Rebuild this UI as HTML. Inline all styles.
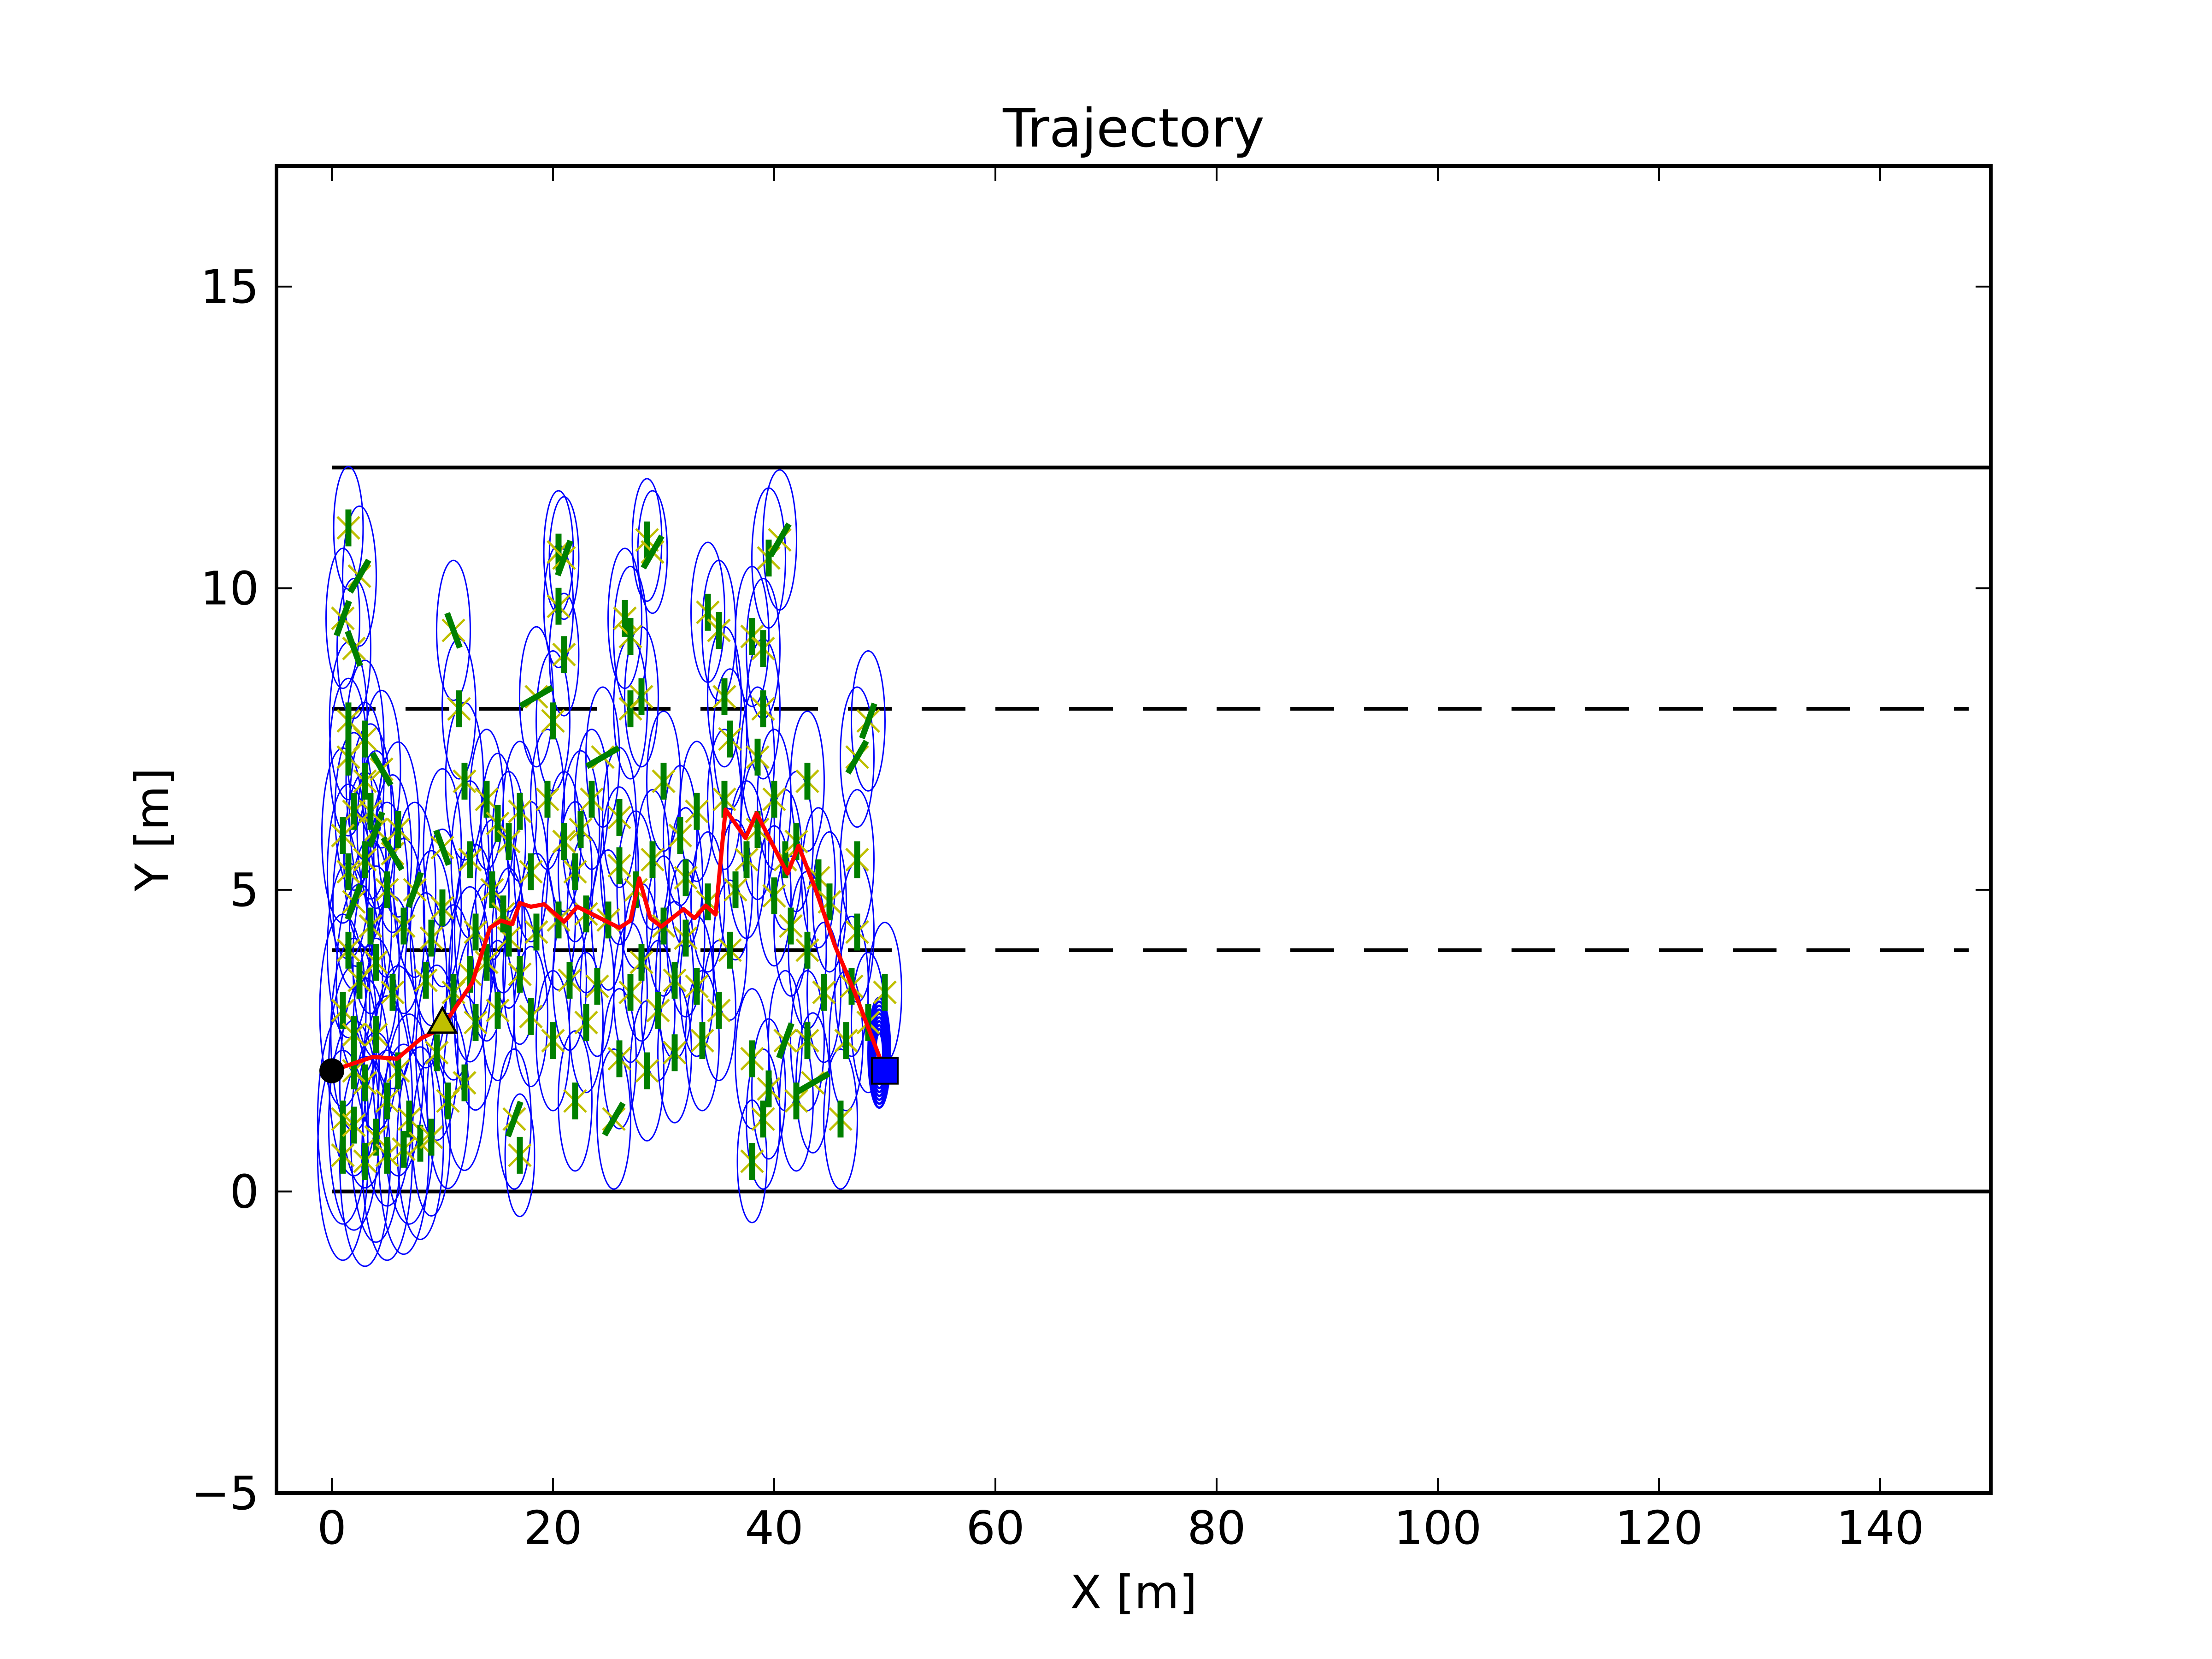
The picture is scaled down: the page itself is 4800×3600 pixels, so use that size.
<!DOCTYPE html>
<html><head><meta charset="utf-8"><style>
html,body{margin:0;padding:0;background:#fff}
svg{display:block}
text{font-family:"DejaVu Sans","Liberation Sans",sans-serif;fill:#000}
</style></head><body>
<svg id="chart" width="4800" height="3600" viewBox="0 0 4800 3600" xmlns="http://www.w3.org/2000/svg">
<rect width="4800" height="3600" fill="#fff"/>
<g id="plot"></g>
<g id="axes"></g>
<text x="2460" y="318" font-size="115" text-anchor="middle">Trajectory</text>
<text x="2460" y="3490" font-size="100" text-anchor="middle">X [m]</text>
<text x="0" y="0" font-size="100" text-anchor="middle" transform="translate(365,1800) rotate(-90)">Y [m]</text>
</svg>
<script>
const xTicks=[0,20,40,60,80,100,120,140];
const yTicks=[-5,0,5,10,15];
const yTickLabels=["\u22125","0","5","10","15"];
const trajX=[0,3.7,5.9,8.1,9.9,12.7,14.3,15.3,16.3,17.0,18.0,19.2,21.0,22.2,26.0,27.0,27.8,28.8,29.8,31.8,32.8,33.8,34.7,35.6,37.4,38.4,41.2,42.2,43.8,45.5,47.3,48.7,50.0];
const trajY=[2.0,2.23,2.2,2.54,2.7,3.46,4.37,4.49,4.43,4.78,4.72,4.76,4.47,4.72,4.37,4.49,5.19,4.53,4.39,4.68,4.53,4.74,4.59,6.33,5.86,6.27,5.27,5.73,4.98,4.07,3.29,2.62,2.0];
const landmarks=[[1.5,11,0,0.7],[2.5,10.2,30,0.8],[1,9.5,20,0.8],[2,9,-20,0.8],[1.5,7.8,0,0.9],[1.5,7.2,0,0.9],[3,6.8,0,0.9],[2,6.3,0,0.9],[4,6,20,0.9],[5.5,5.6,-30,0.9],[1,5.9,0,1],[3,5.5,0,1],[2,4.8,20,1],[3.5,4.4,0,1],[1.5,4,0,1],[2.5,3.5,0,1.1],[1,3,0,1.1],[2,2.6,0,1.1],[1,1.2,0,1.2],[2,1.1,0,1.2],[3,1.8,0,1.2],[4,0.9,0,1.2],[5,1.5,0,1.2],[6,2,0,1.2],[7,1.2,0,1.2],[8,0.8,0,1.1],[4,2.6,0,1.1],[5.5,3.3,0,1.1],[6.5,4.4,0,1],[7.5,5,20,1],[6,6,0,1],[4.5,7,-30,0.9],[3,7.5,0,0.9],
[1,0.6,0,1.2],[3,0.5,0,1.2],[5,0.6,0,1.2],[6.5,0.7,0,1.2],[2,2,0,1.2],[4,3.8,0,1.1],[5,5,0,1],[3.5,6.3,0,1],[1.5,5.3,0,1],
[11,9.3,-20,0.8],[11.5,8,0,0.8],[12,6.8,0,0.9],[10,5.7,-20,0.9],[12.5,5.5,0,0.9],[10,4.7,0,0.9],[11,3.3,0,1],[9.5,2.3,0,1],[10.5,1.5,0,1],[12,1.8,0,1],[13,2.8,0,1],[9,0.9,0,0.9],[8.5,3.5,0,1],[9,4.2,0,1],[13,4.3,0,1],[12.5,3.6,0,1],
[14,6.5,0,0.8],[15,6.1,0,0.8],[14.5,5,0,0.8],[16,5.8,0,0.8],[17,6.3,0,0.8],[16,4.2,0,0.8],[15,3,0,0.8],[17,3.6,0,0.8],[16.5,1.2,20,0.8],[17,0.6,0,0.7],[18,2.9,0,0.8],[18,5.3,0,0.8],[18.5,8.2,60,0.8],[14,3.8,0,0.9],[15.5,4.6,0,0.9],[18.5,4.3,0,0.9],
[20.5,10.6,0,0.7],[21,10.5,20,0.7],[20.5,9.7,0,0.7],[21,8.9,0,0.7],[20,7.8,0,0.8],[19.5,6.5,0,0.8],[21,5.8,0,0.8],[22,5.3,0,0.8],[20.5,4.5,0,0.8],[21.5,3.5,0,0.8],[20,2.5,0,0.8],[22,1.5,0,0.8],[23,2.8,0,0.8],[24,3.4,0,0.8],[23.5,6.5,0,0.8],[24.5,7.2,60,0.8],[23,4.6,0,0.9],[22.5,6,0,0.9],
[26,6.2,0,0.8],[25,4.5,0,0.8],[27,3.3,0,0.8],[26,2.2,0,0.8],[25.5,1.2,30,0.8],[27,8,0,0.8],[26.5,9.5,0,0.8],[27,9.2,0,0.8],[28.5,10.8,0,0.7],[29,10.6,30,0.7],[28,8.2,0,0.8],[30,6.8,0,0.8],[29,5.5,0,0.8],[30,4.4,0,0.8],[29.5,3,0,0.8],[28.5,2,0,0.8],[31,2.3,0,0.8],[27.5,5,0,0.9],[28,3.8,0,0.9],[26,5.4,0,0.9],
[31.5,5.9,0,0.8],[32,5.2,0,0.8],[33,6.3,0,0.8],[34,4.8,0,0.8],[33,3.4,0,0.8],[33.5,2.5,0,0.8],[35,3,0,0.8],[35.5,6.5,0,0.8],[34,9.6,0,0.8],[35,9.3,0,0.8],[35.5,8.2,0,0.8],[36,7.5,0,0.8],[36.5,5,0,0.8],[36,4,0,0.8],[32,4.2,0,0.9],[31,3.5,0,0.9],
[38,9.2,0,0.8],[39,9,0,0.8],[39.5,10.5,0,0.8],[40.5,10.8,30,0.8],[39,8,0,0.8],[38.5,7.2,0,0.8],[40,6.5,0,0.8],[38.5,6,0,0.8],[41,5.5,0,0.8],[40,4.9,0,0.8],[41.5,4.4,0,0.8],[42,5.8,0,0.8],[43,6.8,0,0.8],[38,2.2,0,0.8],[39.5,1.7,0,0.8],[41,2.5,20,0.8],[42,1.5,0,0.8],[38,0.5,0,0.7],[39,1.2,0,0.8],[43,2.5,0,0.8],[44,5.2,0,0.8],[45,4.8,0,0.8],[44.5,3.3,0,0.8],[43.5,1.8,60,0.8],[37.5,5.5,0,0.9],[43,4,0,0.9],
[47.5,7.2,30,0.8],[48.5,7.8,20,0.8],[47.5,5.5,0,0.8],[47.5,4.3,0,0.8],[47,3.4,0,0.8],[46.5,2.5,0,0.8],[46,1.2,0,0.8],[48.5,2.8,0,0.8],[50,3.3,0,0.8]];
const finalCovR=[0.25,0.3,0.35,0.4,0.45,0.5,0.55,0.6,0.65,0.7];
const laneSolid=[0,12];
const laneDashed=[4,8];
const startPt=[0,2], checkPt=[10,2.8], endPt=[50,2], finalCov=[49.5,2.3];

const L=600,R=4320,T=360,B=3240,XMIN=-5,XMAX=150,YMIN=-5,YMAX=17;
const sx=v=>L+(v-XMIN)/(XMAX-XMIN)*(R-L);
const sy=v=>B-(v-YMIN)/(YMAX-YMIN)*(B-T);
const kx=(R-L)/(XMAX-XMIN), ky=(B-T)/(YMAX-YMIN);
const NS="http://www.w3.org/2000/svg";
const plot=document.getElementById('plot'), axes=document.getElementById('axes');
function mk(tag,attrs,parent){const e=document.createElementNS(NS,tag);for(const k in attrs)e.setAttribute(k,attrs[k]);parent.appendChild(e);return e;}

laneSolid.forEach(v=>{const e=mk('line',{x1:sx(0),x2:sx(150),y1:sy(v),y2:sy(v),stroke:'#000','stroke-width':8},plot);

});
laneDashed.forEach(v=>{const e=mk('line',{x1:sx(0),x2:sx(148),y1:sy(v),y2:sy(v),stroke:'#000','stroke-width':8,'stroke-dasharray':'95 65'},plot);

});

landmarks.forEach(p=>{const e=mk('ellipse',{cx:sx(p[0]),cy:sy(p[1]),rx:p[3]*kx*1.9,ry:p[3]*ky*1.45,fill:'none',stroke:'#0000ff','stroke-width':3},plot);

});
finalCovR.forEach(r=>{const e=mk('ellipse',{cx:sx(finalCov[0]),cy:sy(finalCov[1]),rx:r*kx*1.4,ry:r*ky*1.3,fill:'none',stroke:'#0000ff','stroke-width':5},plot);

});
landmarks.forEach(p=>{const cx=sx(p[0]),cy=sy(p[1]),s=24;
const g=mk('g',{},plot);


mk('path',{d:`M${cx-s} ${cy-s}L${cx+s} ${cy+s}M${cx-s} ${cy+s}L${cx+s} ${cy-s}`,stroke:'#bfbf00','stroke-width':5,fill:'none'},g);
const a=p[2]*Math.PI/180,len=40;
mk('line',{x1:cx-Math.sin(a)*len,y1:cy+Math.cos(a)*len,x2:cx+Math.sin(a)*len,y2:cy-Math.cos(a)*len,stroke:'#008000','stroke-width':13},g);});

const tp=mk('polyline',{points:trajX.map((x,i)=>sx(x)+','+sy(trajY[i])).join(' '),fill:'none',stroke:'#ff0000','stroke-width':9,'stroke-linejoin':'round'},plot);


const st=mk('circle',{cx:sx(startPt[0]),cy:sy(startPt[1]),r:27,fill:'#000'},plot);


const tx=sx(checkPt[0]),ty=sy(checkPt[1]);
const tri=mk('polygon',{points:`${tx},${ty-32} ${tx-30},${ty+22} ${tx+30},${ty+22}`,fill:'#bfbf00',stroke:'#000','stroke-width':5},plot);


const sq=mk('rect',{x:sx(endPt[0])-28,y:sy(endPt[1])-28,width:56,height:56,fill:'#0000ff',stroke:'#000','stroke-width':4},plot);



const fr=mk('rect',{x:L,y:T,width:R-L,height:B-T,fill:'none',stroke:'#000','stroke-width':8},axes);


xTicks.forEach(v=>{const x=sx(v);
mk('line',{x1:x,x2:x,y1:B,y2:B-33,stroke:'#000','stroke-width':4},axes);
mk('line',{x1:x,x2:x,y1:T,y2:T+33,stroke:'#000','stroke-width':4},axes);
const t=mk('text',{x:x,y:3350,'font-size':100,'text-anchor':'middle'},axes);t.textContent=v;

});
yTicks.forEach((v,i)=>{const y=sy(v);
mk('line',{x1:L,x2:L+33,y1:y,y2:y,stroke:'#000','stroke-width':4},axes);
mk('line',{x1:R,x2:R-33,y1:y,y2:y,stroke:'#000','stroke-width':4},axes);
const t=mk('text',{x:562,y:y+35,'font-size':100,'text-anchor':'end'},axes);t.textContent=yTickLabels[i];

});
</script>
</body></html>
